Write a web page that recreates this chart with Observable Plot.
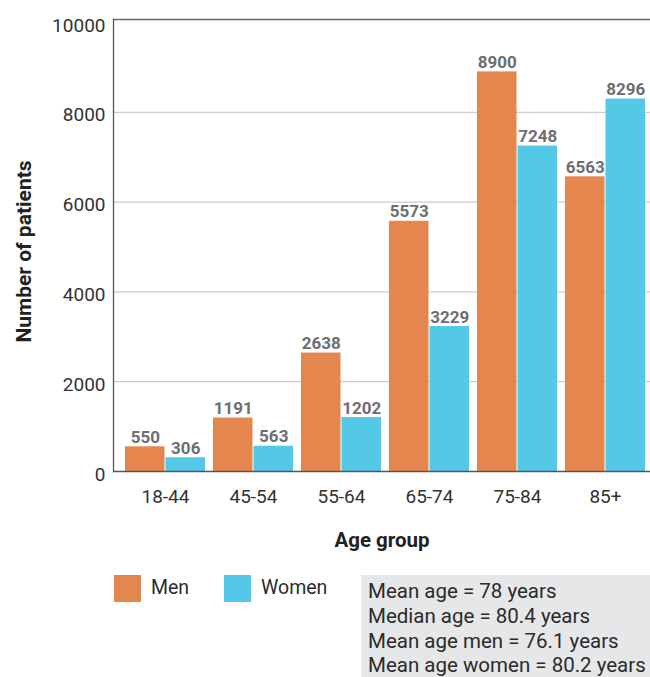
<!DOCTYPE html>
<html>
<head>
<meta charset="utf-8">
<script src="https://cdn.jsdelivr.net/npm/d3@7"></script>
<script src="https://cdn.jsdelivr.net/npm/@observablehq/plot@0.6"></script>
<style>
  html, body { margin: 0; padding: 0; background: #fff; }
  body { width: 650px; height: 677px; overflow: hidden; font-family: Roboto, "DejaVu Sans", sans-serif; }
  #chart svg { display: block; }
  #below { position: relative; height: 117px; }
  .sw { position: absolute; top: 15px; width: 27px; height: 27px; }
  .lab { position: absolute; top: 13px; font-size: 19.5px; color: #2b2b2b; line-height: 30px; }
  #stats { position: absolute; left: 361px; top: 15px; width: 289px; height: 110px;
           background: #e6e7e8; box-sizing: border-box; padding: 4px 0 0 7px;
           font-size: 20.5px; line-height: 24.8px; color: #2b2b2b; white-space: nowrap; overflow: hidden; }
</style>
</head>
<body>
<div id="chart"></div>
<div id="below"></div>
<script>
// Patients by age group and sex
const ageGroups = ["18-44", "45-54", "55-64", "65-74", "75-84", "85+"];
const men = [550, 1191, 2638, 5573, 8900, 6563];
const women = [306, 563, 1202, 3229, 7248, 8296];
const sexes = ["Men", "Women"];
const colors = ["#e6864f", "#54c9e7"];
const yTicks = [0, 2000, 4000, 6000, 8000, 10000];
const gridTicks = [2000, 4000, 6000, 8000];
const statsLines = [
  "Mean age = 78 years",
  "Median age = 80.4 years",
  "Mean age men = 76.1 years",
  "Mean age women = 80.2 years"
];

const rows = ageGroups.flatMap((g, i) => [
  {group: g, sex: "Men", value: men[i]},
  {group: g, sex: "Women", value: women[i]}
]);
const menRows = rows.filter(d => d.sex === "Men");
const womenRows = rows.filter(d => d.sex === "Women");

const W = 650, H = 560;
const xRange = [119.2, 650.8], padIn = 0.086, padOut = 0.043;
const xOpts = {domain: ageGroups, range: xRange, paddingInner: padIn, paddingOuter: padOut};
// each age band holds two side-by-side bars, so each bar takes half the band
const bw = d3.scaleBand().domain(ageGroups).range(xRange)
  .paddingInner(padIn).paddingOuter(padOut).bandwidth();
const half = bw / 2;

const valueText = {
  text: d => String(d.value),
  lineAnchor: "bottom",
  dy: -4,
  fontSize: 17,
  fontWeight: "bold",
  fill: "#6d6e71"
};

const plot = Plot.plot({
  width: W,
  height: H,
  marginLeft: 113,
  marginRight: 0,
  marginTop: 19,
  marginBottom: 89,
  style: {fontFamily: "Roboto, 'DejaVu Sans', sans-serif", background: "#fff"},
  x: {...xOpts, label: null},
  y: {domain: [0, 10000], insetTop: 3, label: null},
  marks: [
    Plot.gridY(gridTicks, {stroke: "#cdcdcd", strokeOpacity: 1, strokeWidth: 1.2}),
    Plot.barY(menRows, {x: "group", y1: 0, y2: "value", fill: colors[0], insetLeft: 0, insetRight: half}),
    Plot.barY(womenRows, {x: "group", y1: 0, y2: "value", fill: colors[1], insetLeft: half, insetRight: 0}),
    Plot.text(menRows, {x: "group", y: "value", dx: -half / 2, ...valueText}),
    Plot.text(womenRows, {x: "group", y: "value", dx: half / 2, ...valueText}),
    Plot.frame({anchor: "top", stroke: "#666", strokeWidth: 1.3}),
    Plot.frame({anchor: "left", stroke: "#555", strokeWidth: 1.3}),
    Plot.ruleY([0], {stroke: "#555", strokeWidth: 1.3}),
    Plot.axisY(yTicks, {tickSize: 0, tickPadding: 8, fontSize: 19, fill: "#333", dy: 3,
      tickFormat: d => String(d), label: null}),
    Plot.axisX({tickSize: 0, tickPadding: 18, fontSize: 19, fill: "#333", label: null}),
    Plot.text(["Age group"], {frameAnchor: "bottom", dy: 69, lineAnchor: "middle",
      fontSize: 20.5, fontWeight: "bold", fill: "#222"}),
    Plot.text(["Number of patients"], {frameAnchor: "left", textAnchor: "middle", rotate: -90,
      dx: -89, dy: 6, fontSize: 21, fontWeight: "bold", fill: "#222"})
  ]
});
document.getElementById("chart").appendChild(plot);

// Legend and summary box
const below = d3.select("#below");
const legendPos = [{sw: 114, lab: 151}, {sw: 224, lab: 261}];
sexes.forEach((s, i) => {
  below.append("div").attr("class", "sw")
    .style("left", legendPos[i].sw + "px").style("background", colors[i]);
  below.append("div").attr("class", "lab")
    .style("left", legendPos[i].lab + "px").text(s);
});
const stats = below.append("div").attr("id", "stats");
statsLines.forEach(t => stats.append("div").text(t));
</script>
</body>
</html>
